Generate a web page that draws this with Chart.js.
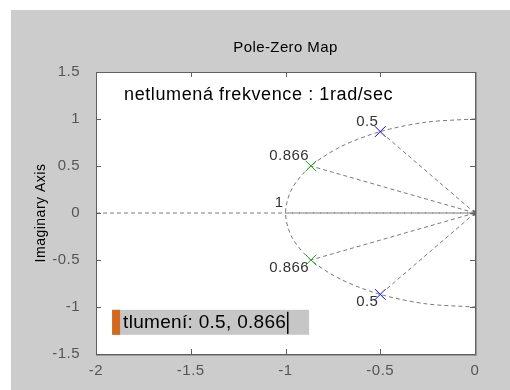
<!DOCTYPE html>
<html>
<head>
<meta charset="utf-8">
<script src="https://cdn.jsdelivr.net/npm/chart.js@4.4.1/dist/chart.umd.min.js"></script>
<style>
  body { margin: 0; background: #ffffff; }
  canvas { display: block; }
</style>
</head>
<body>
<canvas id="pzChart" width="510" height="390"></canvas>
<script>
// pole positions (real / imaginary parts)
const poleBlueRe = [-0.5, -0.5];
const poleBlueIm = [0.866, -0.866];
const poleGreenRe = [-0.866, -0.866];
const poleGreenIm = [0.5, -0.5];

// natural frequency 1 rad/s circle
const arcRe = [0, -0.259, -0.5, -0.707, -0.866, -0.966, -1, -0.966, -0.866, -0.707, -0.5, -0.259, 0];
const arcIm = [1, 0.966, 0.866, 0.707, 0.5, 0.259, 0, -0.259, -0.5, -0.707, -0.866, -0.966, -1];

// damping rays end points + their labels
const rayRe = [-0.5, -0.866, -1, -0.866, -0.5];
const rayIm = [0.866, 0.5, 0, -0.5, -0.866];
const rayLabels = ['0.5', '0.866', '1', '0.866', '0.5'];

const xTicks = [-2, -1.5, -1, -0.5, 0];
const yTicks = [-1.5, -1, -0.5, 0, 0.5, 1, 1.5];

const chartTitle = 'Pole-Zero Map';
const yTitle = 'Imaginary Axis';
const noteText = 'netlumená frekvence : 1rad/sec';
const boxText = 'tlumení: 0.5, 0.866';

const FONT = '"Liberation Sans", Arial, sans-serif';
const dashGrey = '#7a7a7a';

function pts(re, im) {
    const out = [];
    for (let i = 0; i < re.length; i++) out.push({x: re[i], y: im[i]});
    return out;
}

function dashed(data) {
    return {
        type: 'line',
        data: data,
        borderColor: dashGrey,
        borderWidth: 1,
        borderDash: [4, 3],
        pointRadius: 0,
        fill: false
    };
}

const datasets = [];
// real axis line
datasets.push(dashed([{x: xTicks[0], y: 0}, {x: 0, y: 0}]));
// circle
const arcSet = dashed(pts(arcRe, arcIm));
arcSet.tension = 0.3;
datasets.push(arcSet);
// rays from the origin
for (let i = 0; i < rayRe.length; i++) {
    datasets.push(dashed([{x: 0, y: 0}, {x: rayRe[i], y: rayIm[i]}]));
}
// poles
datasets.push({
    type: 'scatter', data: pts(poleBlueRe, poleBlueIm),
    pointStyle: 'crossRot', pointRadius: 7.5, borderColor: '#0000ff', borderWidth: 1
});
datasets.push({
    type: 'scatter', data: pts(poleGreenRe, poleGreenIm),
    pointStyle: 'crossRot', pointRadius: 7.5, borderColor: '#00b000', borderWidth: 1
});
// small marker at origin
datasets.push({
    type: 'scatter', data: [{x: 0, y: 0}],
    pointStyle: 'triangle', rotation: 90, pointRadius: 3,
    backgroundColor: '#555555', borderColor: '#555555', borderWidth: 1
});

const matlabLook = {
    id: 'matlabLook',
    beforeDraw(chart) {
        const ctx = chart.ctx;
        const a = chart.chartArea;
        ctx.save();
        ctx.fillStyle = '#cccccc';
        ctx.fillRect(11, 10, chart.width - 11, chart.height - 10);
        ctx.fillStyle = '#ffffff';
        ctx.fillRect(a.left, a.top, a.right - a.left, a.bottom - a.top);
        ctx.restore();
        ctx.letterSpacing = '0.5px';
    },
    afterDraw(chart) {
        const ctx = chart.ctx;
        const a = chart.chartArea;
        const xs = chart.scales.x;
        const ys = chart.scales.y;

        ctx.save();
        // frame
        ctx.strokeStyle = '#606060';
        ctx.lineWidth = 1;
        ctx.strokeRect(a.left + 0.5, a.top + 0.5, a.right - a.left, a.bottom - a.top);
        ctx.strokeStyle = '#9a9a9a';
        ctx.beginPath();
        ctx.moveTo(a.right + 1.5, a.top);
        ctx.lineTo(a.right + 1.5, a.bottom + 2);
        ctx.moveTo(a.left, a.bottom + 1.5);
        ctx.lineTo(a.right + 2, a.bottom + 1.5);
        ctx.stroke();

        // inner ticks on all sides
        ctx.strokeStyle = '#606060';
        ctx.beginPath();
        xTicks.forEach(function(v) {
            const px = Math.round(xs.getPixelForValue(v)) + 0.5;
            ctx.moveTo(px, a.bottom); ctx.lineTo(px, a.bottom - 5);
            ctx.moveTo(px, a.top); ctx.lineTo(px, a.top + 5);
        });
        yTicks.forEach(function(v) {
            const py = Math.round(ys.getPixelForValue(v)) + 0.5;
            ctx.moveTo(a.left, py); ctx.lineTo(a.left + 5, py);
            ctx.moveTo(a.right, py); ctx.lineTo(a.right - 5, py);
        });
        ctx.stroke();

        // title
        ctx.fillStyle = '#000000';
        ctx.font = '15px ' + FONT;
        ctx.letterSpacing = '0.4px';
        ctx.textAlign = 'center';
        ctx.textBaseline = 'middle';
        ctx.fillText(chartTitle, (a.left + a.right) / 2, 48);

        // ray labels
        ctx.fillStyle = '#333333';
        ctx.textAlign = 'right';
        for (let i = 0; i < rayRe.length; i++) {
            const px = xs.getPixelForValue(rayRe[i]) - 2;
            const py = ys.getPixelForValue(rayIm[i]);
            if (rayIm[i] >= 0) {
                ctx.textBaseline = 'alphabetic';
                ctx.fillText(rayLabels[i], px, py - 6);
            } else {
                ctx.textBaseline = 'top';
                ctx.fillText(rayLabels[i], px, py);
            }
        }

        // note text
        ctx.fillStyle = '#000000';
        ctx.font = '18px ' + FONT;
        ctx.letterSpacing = '0.6px';
        ctx.textAlign = 'left';
        ctx.textBaseline = 'alphabetic';
        ctx.fillText(noteText, xs.getPixelForValue(-1.852), ys.getPixelForValue(1.2));

        // text box
        const bx = xs.getPixelForValue(-1.915);
        const by = ys.getPixelForValue(-1.03);
        ctx.fillStyle = '#c6c6c6';
        ctx.fillRect(bx, by, 197, 25);
        ctx.fillStyle = '#d2691e';
        ctx.fillRect(bx, by, 8, 25);
        ctx.fillStyle = '#000000';
        ctx.font = '19px ' + FONT;
        ctx.letterSpacing = '0.3px';
        ctx.textBaseline = 'middle';
        ctx.fillText(boxText, bx + 11, by + 13);
        const tw = ctx.measureText(boxText).width;
        ctx.fillRect(Math.round(bx + 11 + tw + 1), by + 2, 1.5, 22);
        ctx.restore();
    }
};

function plainLabel(value) {
    return String(value);
}

const chart = new Chart(document.getElementById('pzChart'), {
    type: 'scatter',
    data: { datasets: datasets },
    options: {
        responsive: false,
        animation: false,
        layout: { padding: { left: 0, right: 35, top: 72, bottom: 0 } },
        plugins: {
            legend: { display: false },
            tooltip: { enabled: false },
            title: { display: false }
        },
        scales: {
            x: {
                type: 'linear',
                min: -2,
                max: 0,
                afterBuildTicks: function(s) { s.ticks = xTicks.map(v => ({value: v})); },
                ticks: { color: '#555555', padding: 0, callback: plainLabel, font: { family: FONT, size: 15 } },
                grid: { display: false },
                border: { display: false },
                afterFit: function(s) { s.height = 36; }
            },
            y: {
                type: 'linear',
                min: -1.5,
                max: 1.5,
                afterBuildTicks: function(s) { s.ticks = yTicks.map(v => ({value: v})); },
                ticks: { color: '#555555', padding: 8, callback: plainLabel, font: { family: FONT, size: 15 } },
                grid: { display: false },
                border: { display: false },
                title: {
                    display: true,
                    text: yTitle,
                    color: '#000000',
                    font: { family: FONT, size: 14 },
                    padding: { top: 33, bottom: 0 }
                },
                afterFit: function(s) { s.width = 96; }
            }
        }
    },
    plugins: [matlabLook]
});
</script>
</body>
</html>
